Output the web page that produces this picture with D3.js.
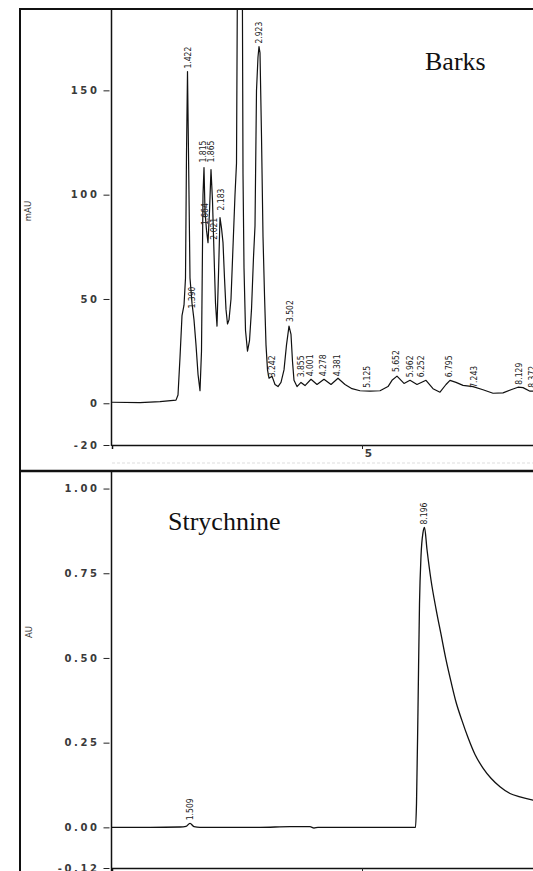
<!DOCTYPE html>
<html><head><meta charset="utf-8">
<script src="https://cdn.jsdelivr.net/npm/d3@7"></script>
<style>body{margin:0;background:#fff}svg{display:block}</style>
</head><body><svg id="c" width="533" height="871"></svg>
<script>
// ---------- DATA ----------
// Barks chromatogram (time in min, absorbance in mAU)
const barksTime = [0.00,0.56,0.96,1.28,1.32,1.36,1.40,1.44,1.47,1.49,1.51,1.53,1.56,1.60,1.64,1.68,1.72,1.76,1.79,1.82,1.84,1.86,1.89,1.92,1.95,1.98,2.01,2.04,2.07,2.10,2.13,2.16,2.19,2.22,2.25,2.28,2.31,2.34,2.38,2.42,2.46,2.49,2.51,2.54,2.57,2.60,2.62,2.64,2.67,2.71,2.75,2.79,2.83,2.86,2.89,2.92,2.94,2.96,2.99,3.02,3.05,3.08,3.11,3.14,3.20,3.26,3.32,3.38,3.44,3.49,3.54,3.58,3.61,3.64,3.70,3.78,3.86,3.98,4.10,4.24,4.38,4.52,4.66,4.80,4.96,5.16,5.36,5.52,5.60,5.70,5.84,5.96,6.10,6.28,6.42,6.56,6.68,6.76,6.88,7.02,7.22,7.42,7.62,7.82,7.98,8.12,8.22,8.36,8.56,8.76];
const barksMAU  = [0.5,0.3,0.8,1.5,4,22,42,47,60,120,159,120,60,48,40,28,14,6,25,100,113,92,83,77,92,112,97,72,48,37,62,89,84,77,60,45,38,40,50,75,100,115,210,320,330,250,110,65,35,25,30,45,70,85,150,166,171,168,128,80,52,28,16,12,13,9,8,10,16,28,37,33,20,11,8,10,8.5,11.5,9,11.5,9,12,9,7,6,5.8,6,8,11,13,9.5,11,9,11,7,5.3,9,11,10,8.6,8,6.5,4.8,5,6.5,7.7,7.5,5.8,6,6.5];
const barksPeakText   = ["1.390","1.422","1.664","1.815","1.865","2.021","2.183","2.923","3.242","3.502","3.855","4.001","4.278","4.381","5.125","5.652","5.962","6.252","6.795","7.243","8.129","8.372"];
const barksPeakTime   = [1.60,1.52,1.86,1.82,1.98,2.04,2.18,2.94,3.20,3.56,3.78,3.96,4.22,4.50,5.10,5.68,5.96,6.18,6.74,7.24,8.14,8.40];
const barksPeakHeight = [44,159,84,114,114,77,91,171,11,37.5,11,11.5,11.5,11.5,6,13.5,11,11,11,6,7.5,6];

// Strychnine standard chromatogram (time in min, absorbance in AU)
const strychTime = [0.00,0.76,1.36,1.48,1.56,1.64,1.76,2.96,3.56,3.96,4.04,4.12,5.36,6.07,6.09,6.12,6.15,6.18,6.22,6.25,6.30,6.38,6.48,6.58,6.68,6.78,6.88,7.00,7.12,7.26,7.42,7.58,7.76,7.96,8.16,8.42,8.76];
const strychAU   = [0,0,0.001,0.003,0.012,0.002,0,0,0.002,0.002,-0.002,0,0,0,0.07,0.35,0.66,0.80,0.87,0.885,0.82,0.73,0.645,0.57,0.495,0.43,0.37,0.315,0.265,0.215,0.175,0.145,0.12,0.10,0.09,0.08,0.07];
const strychPeakText   = ["1.509","8.196"];
const strychPeakTime   = [1.56,6.25];
const strychPeakHeight = [0.012,0.885];

const topYTicks = [-20,0,50,100,150];
const botYTicks = [-0.12,0.00,0.25,0.50,0.75,1.00];
const xTicks = [5];
const topTitle = "Barks", botTitle = "Strychnine";
const topUnit = "mAU", botUnit = "AU";

// ---------- LAYOUT ----------
const svg = d3.select("#c");
const W = 533;
const axisX = 111.5;
const x = d3.scaleLinear().domain([0, 10]).range([112, 612]);
const yTop = d3.scaleLinear().domain([-20, 189]).range([445, 9]);
const yBot = d3.scaleLinear().domain([-0.12, 1.04]).range([868, 475]);

const tickFont = "'DejaVu Sans', sans-serif";
const peakFont = "'Liberation Sans Narrow','DejaVu Sans Condensed','Arial Narrow',sans-serif";
const serif = "'Liberation Serif','Times New Roman',serif";

svg.append("defs").call(d => {
  d.append("clipPath").attr("id","clipTop").append("rect").attr("x",112).attr("y",9).attr("width",W).attr("height",436);
  d.append("clipPath").attr("id","clipBot").append("rect").attr("x",112).attr("y",472).attr("width",W).attr("height",396);
});

// outer frame
svg.append("line").attr("x1",20).attr("x2",20).attr("y1",8).attr("y2",871).attr("stroke","#111").attr("stroke-width",2);
svg.append("line").attr("x1",19).attr("x2",W).attr("y1",9).attr("y2",9).attr("stroke","#111").attr("stroke-width",2);
svg.append("line").attr("x1",19).attr("x2",W).attr("y1",471).attr("y2",471).attr("stroke","#111").attr("stroke-width",2.5);
// faint scan line under top axis
svg.append("line").attr("x1",112).attr("x2",W).attr("y1",463).attr("y2",463).attr("stroke","#ddd").attr("stroke-width",1).attr("stroke-dasharray","3,2");

function yAxis(scale, ticks, fmt, top, bottom) {
  const g = svg.append("g").attr("transform",`translate(${axisX-2},0)`)
    .call(d3.axisLeft(scale).tickValues(ticks).tickSize(6).tickPadding(4).tickFormat(fmt));
  g.select(".domain").remove();
  g.selectAll(".tick line").attr("stroke","#222").attr("stroke-width",1);
  g.selectAll(".tick text").attr("font-family",tickFont).attr("font-size",10).attr("font-weight","bold")
    .attr("letter-spacing","2.6px").attr("fill","#3a3a3a");
  svg.append("line").attr("x1",axisX).attr("x2",axisX).attr("y1",top).attr("y2",bottom).attr("stroke","#111").attr("stroke-width",1.5);
}
yAxis(yTop, topYTicks, d => String(d), 9, 446);
yAxis(yBot, botYTicks, d => d.toFixed(2), 471, 871);

function xAxis(yPos, showLabels) {
  const g = svg.append("g").attr("transform",`translate(0,${yPos})`)
    .call(d3.axisBottom(x).tickValues(xTicks).tickSize(4).tickPadding(1).tickFormat(showLabels ? d3.format("d") : () => ""));
  g.select(".domain").attr("stroke","#111").attr("stroke-width",1.5);
  g.selectAll(".tick line").attr("stroke","#222");
  g.selectAll(".tick text").attr("font-family",tickFont).attr("font-size",10.5).attr("font-weight","bold").attr("fill","#3a3a3a").attr("dx","6");
}
xAxis(445, true);
xAxis(868, false);

// unit labels
svg.append("text").attr("transform","translate(31,211) rotate(-90)").attr("text-anchor","middle")
  .attr("font-family",tickFont).attr("font-size",8.5).attr("fill","#333").text(topUnit);
svg.append("text").attr("transform","translate(32,632) rotate(-90)").attr("text-anchor","middle")
  .attr("font-family",tickFont).attr("font-size",8.5).attr("fill","#333").text(botUnit);

// traces
const lineTop = d3.line().x((d,i)=>x(barksTime[i])).y((d,i)=>yTop(barksMAU[i]));
svg.append("path").attr("clip-path","url(#clipTop)").datum(barksMAU).attr("d",lineTop)
  .attr("fill","none").attr("stroke","#111").attr("stroke-width",1.2).attr("stroke-linejoin","round");
const lineBot = d3.line().x((d,i)=>x(strychTime[i])).y((d,i)=>yBot(strychAU[i])).curve(d3.curveMonotoneX);
svg.append("path").attr("clip-path","url(#clipBot)").datum(strychAU).attr("d",lineBot)
  .attr("fill","none").attr("stroke","#111").attr("stroke-width",1.3);

// peak labels
function peakLabels(texts, times, heights, yScale) {
  svg.append("g").selectAll("text").data(texts).join("text")
    .attr("transform",(d,i)=>`translate(${x(times[i])},${yScale(heights[i])-3}) rotate(-90)`)
    .attr("dy","0.35em").attr("text-anchor","start")
    .attr("font-family",peakFont).attr("font-size",8.5).attr("fill","#222")
    .text(d=>d);
}
peakLabels(barksPeakText, barksPeakTime, barksPeakHeight, yTop);
peakLabels(strychPeakText, strychPeakTime, strychPeakHeight, yBot);

// titles
svg.append("text").attr("x",425).attr("y",70).attr("font-family",serif)
  .attr("font-size",26).attr("fill","#111").text(topTitle);
svg.append("text").attr("x",168).attr("y",530).attr("font-family",serif)
  .attr("font-size",26).attr("fill","#111").text(botTitle);
</script>
</body></html>
